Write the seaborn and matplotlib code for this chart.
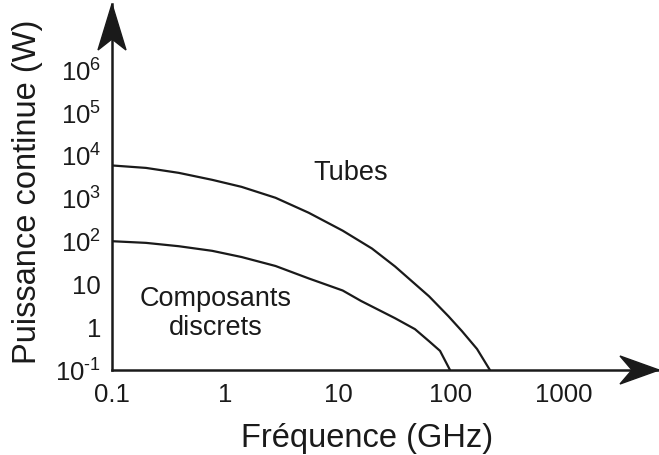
import numpy as np
import pandas as pd
import matplotlib
matplotlib.use("Agg")
import matplotlib.pyplot as plt
from matplotlib.patches import Polygon
import seaborn as sns

# ---- data ----
freq_tubes = [0.1, 0.2, 0.39, 0.77, 1.4, 2.8, 5.5, 11, 20, 32, 64, 95, 125, 170, 221]
power_tubes = [6000, 5260, 4030, 2770, 1900, 1055, 472, 180, 68.7, 26.2, 5.26, 1.8, 0.81, 0.31, 0.1]
freq_disc = [0.1, 0.2, 0.39, 0.77, 1.4, 2.8, 5.5, 11, 16, 32, 48, 64, 80, 98]
power_disc = [102, 93.3, 77.9, 60.8, 43.6, 26.9, 13.8, 7.2, 4.1, 1.62, 0.9, 0.47, 0.28, 0.1]

x_ticks = [0.1, 1, 10, 100, 1000]
x_ticklabels = ["0.1", "1", "10", "100", "1000"]
y_ticks = [0.1, 1, 10, 1e2, 1e3, 1e4, 1e5, 1e6]
y_ticklabels = [r"$\mathregular{10^{\text{-1}}}$", "1", "10", r"$\mathregular{10^{2}}$",
                r"$\mathregular{10^{3}}$", r"$\mathregular{10^{4}}$",
                r"$\mathregular{10^{5}}$", r"$\mathregular{10^{6}}$"]

df = pd.concat([
    pd.DataFrame({"f": freq_tubes, "p": power_tubes, "s": "Tubes"}),
    pd.DataFrame({"f": freq_disc, "p": power_disc, "s": "Composants discrets"}),
])

sns.set_style("white")
plt.rcParams["font.family"] = ["Liberation Sans", "DejaVu Sans"]
plt.rcParams["mathtext.fontset"] = "custom"
plt.rcParams["mathtext.rm"] = "Liberation Sans"
plt.rcParams["mathtext.it"] = "Liberation Sans:italic"
plt.rcParams["mathtext.bf"] = "Liberation Sans:bold"

INK = "#1a1a1a"
W, H = 659, 455
fig = plt.figure(figsize=(W / 100, H / 100), dpi=100)
ax = fig.add_axes([112 / W, (H - 370) / H, (W - 112) / W, (370 - 4) / H])

sns.lineplot(data=df, x="f", y="p", units="s", estimator=None, sort=False,
             color=INK, linewidth=1.6, ax=ax, legend=False)

ax.set_xscale("log")
ax.set_yscale("log")
ax.set_xlim(0.1, 10 ** 3.841)
ax.set_ylim(0.1, 10 ** 7.55)
ax.set_xticks(x_ticks)
ax.set_xticklabels(x_ticklabels)
ax.set_yticks(y_ticks)
ax.set_yticklabels(y_ticklabels)
ax.minorticks_off()

for side in ["top", "right"]:
    ax.spines[side].set_visible(False)
for side in ["left", "bottom"]:
    ax.spines[side].set_linewidth(1.8)
    ax.spines[side].set_color(INK)

ax.tick_params(axis="both", which="major", direction="in", length=7.5, width=1.6,
               color=INK, labelsize=18.5, labelcolor=INK)
ax.tick_params(axis="x", pad=9)
ax.tick_params(axis="y", pad=8)

ax.set_xlabel("Fréquence (GHz)", fontsize=23.5, color=INK)
ax.xaxis.set_label_coords((367 - 112) / 547, (370 - 438) / 366)
ax.xaxis.label.set_va("center")
ax.set_ylabel("Puissance continue (W)", fontsize=23.5, color=INK)
ax.yaxis.set_label_coords((28 - 112) / 547, (370 - 192) / 366)
ax.yaxis.label.set_va("center")

ax.text(13, 4100, "Tubes", fontsize=19.5, ha="center", va="center", color=INK)
ax.text(0.82, 2.1, "Composants\ndiscrets", fontsize=19.5, ha="center", va="center",
        linespacing=1.15, color=INK)

# arrow heads (decoration), in pixel -> figure coordinates
def fig_pts(pts):
    return [(x / W, 1 - y / H) for x, y in pts]

up = Polygon(fig_pts([(112, 4), (126, 50), (112, 39), (98, 50)]), closed=True,
             transform=fig.transFigure, color=INK, clip_on=False)
right = Polygon(fig_pts([(659, 370), (620, 356), (632, 370), (620, 384)]), closed=True,
                transform=fig.transFigure, color=INK, clip_on=False)
fig.patches.extend([up, right])

fig.savefig("out.png", dpi=100)
